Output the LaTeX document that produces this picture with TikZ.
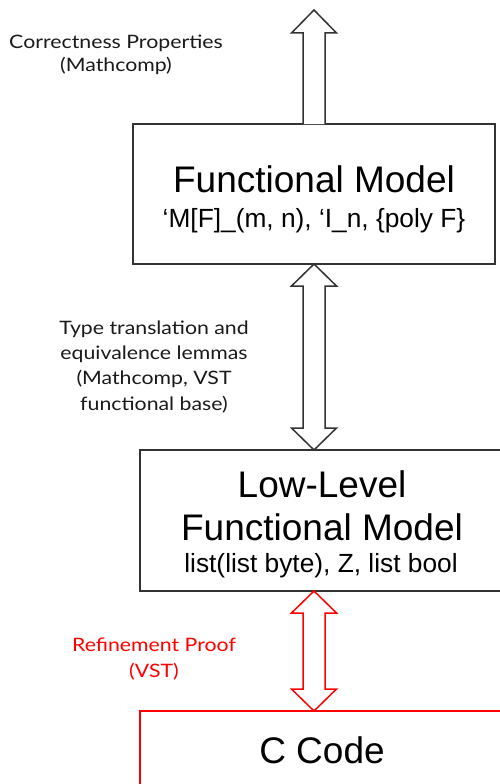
\documentclass[tikz,border=0pt]{standalone}
\usepackage{fontspec}
\setmainfont{Liberation Sans}
\newfontfamily\labfont[FakeStretch=1.15]{Lato}
\usetikzlibrary{calc}
\definecolor{edge}{HTML}{333333}
\definecolor{ink}{HTML}{1A1A1A}
\definecolor{redline}{HTML}{FF0000}
\tikzset{
  box/.style={draw=edge, line width=1.5pt, minimum width=362pt, minimum height=140pt, inner sep=0pt, outer sep=0pt, fill=white},
  redbox/.style={box, draw=redline},
  big/.style={font=\fontsize{37}{42}\selectfont, anchor=base, inner sep=0pt},
  sub/.style={font=\fontsize{26.3}{30}\selectfont, anchor=base, inner sep=0pt},
  lab/.style={font=\labfont\fontsize{18.5}{25}\selectfont, text=ink, anchor=base, inner sep=0pt},
  redlab/.style={lab, text=redline},
  blockarrow/.style={draw=edge, line width=1.5pt, line join=miter, fill=white},
}
\newcommand\dblarrow[3][edge]{%
  \draw[blockarrow, draw=#1] (#2) -- ++(22.5,22) -- ++(-11.5,0) -- ($(#3)+(11,-22)$) -- ++(11.5,0) -- (#3) -- ++(-22.5,-22) -- ++(11.5,0) -- ($(#2)+(-11,22)$) -- ++(-11.5,0) -- cycle;}
\begin{document}
\begin{tikzpicture}[x=1pt,y=-1pt]
  \clip (0,0) rectangle (500,784);
  \fill[white] (0,0) rectangle (500,784);
  % boxes
  \node[box] (fm) at (314,194) {};
  \node[box, minimum width=364pt, minimum height=141pt] (ll) at (322,520.5) {};
  \node[redbox, minimum width=364pt] (cc) at (322,781) {};
  % box texts
  \node[big] (fmt) at (314,192) {Functional Model};
  \node[sub] (fms) at (314,227.5) {‘M[F]\_(m, n), ‘I\_n, \{poly F\}};
  \node[big] (llt1) at (322,497) {Low-Level};
  \node[big] (llt2) at (322,540) {Functional Model};
  \node[sub] (lls) at (321,572) {list(list byte), Z, list bool};
  \node[big] (cct) at (322,763) {C Code};
  % arrows
  \coordinate (out) at (314,10);
  \draw[blockarrow] ($(fm.north)+(-11,0)$) -- ($(out)+(-11,23)$) -- ++(-11.5,0) -- (out) -- ++(22.5,23) -- ++(-11.5,0) -- ($(fm.north)+(11,0)$);
  \coordinate (a1) at (fm.south);
  \coordinate (b1) at (fm.south |- ll.north);
  \dblarrow{a1}{b1}
  \coordinate (a2) at (fm.south |- ll.south);
  \coordinate (b2) at (fm.south |- cc.north);
  \dblarrow[redline]{a2}{b2}
  % labels
  \node[lab] (l1a) at (116,48.3) {Correctness Properties};
  \node[lab] (l1b) at (116,71.7) {(Mathcomp)};
  \node[lab] (l2a) at (154,334) {Type translation and};
  \node[lab] (l2b) at (154,359.5) {equivalence lemmas};
  \node[lab] (l2c) at (154,384.5) {(Mathcomp, VST};
  \node[lab] (l2d) at (154,410) {functional base)};
  \node[redlab] (l3a) at (154,651.7) {Refinement Proof};
  \node[redlab] (l3b) at (154,677) {(VST)};
\end{tikzpicture}
\end{document}
